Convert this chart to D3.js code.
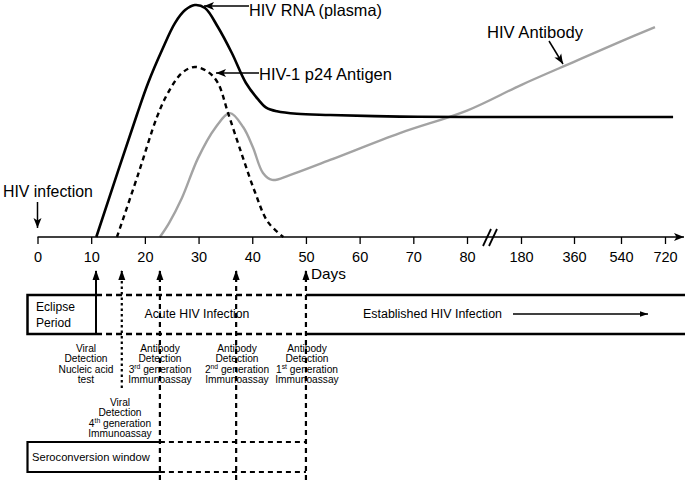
<!DOCTYPE html>
<html><head><meta charset="utf-8">
<script src="https://cdn.jsdelivr.net/npm/d3@7"></script>
<style>body{margin:0;background:#fff}svg{display:block;font-family:"Liberation Sans",Arial,Helvetica,sans-serif}</style>
</head><body><svg id="c" width="685" height="480"></svg>
<script>
// ---- data ----
const tickValues = [0,10,20,30,40,50,60,70,80,180,360,540,720];
const tickLabels = ["0","10","20","30","40","50","60","70","80","180","360","540","720"];
// curves: [day, relative level 0-100]
const hivRNA = [[10.95,0],[18.5,52.6],[20.6,66.4],[23.2,80.6],[25.6,92.2],[27.5,97.8],[29.3,100],[31.2,98.7],[33.6,90.5],[36.2,79.3],[38.8,66.5],[41.1,59.3],[42.6,55.8],[44.6,54.2],[48.3,53.1],[54.5,52.6],[67.5,51.9],[80,51.7],[180,51.7],[360,51.7],[540,51.7],[753,51.7]];
const p24Antigen = [[14.8,0],[18.7,26.7],[22.3,52],[24.3,62.1],[26.9,70.7],[29.3,73.3],[31.8,71.1],[33.6,66.4],[35.5,53.4],[38.1,35.3],[40.5,19.4],[42.9,6.5],[45.8,0]];
const hivAntibody = [[22.8,0],[24.5,6],[26.9,16.8],[29.9,34],[33.1,47],[35.85,53.4],[38.3,47.4],[40.1,38.8],[42,27.6],[43.7,24.6],[47,26.7],[54.5,33.2],[67.5,44.8],[80,54.5],[180,65.5],[360,75.5],[540,84.3],[679,90.5]];
// diagnostic test markers (day)
const testDays = [10.9, 15.7, 22.8, 37.0, 50.0];
const testLabels = [
  ["Viral","Detection","Nucleic acid","test"],
  ["Viral","Detection","4|th| generation","Immunoassay"],
  ["Antibody","Detection","3|rd| generation","Immunoassay"],
  ["Antibody","Detection","2|nd| generation","Immunoassay"],
  ["Antibody","Detection","1|st| generation","Immunoassay"]
];
const phaseLabels = ["Eclipse|Period","Acute HIV Infection","Established HIV Infection","Seroconversion window"];
const curveLabels = ["HIV RNA (plasma)","HIV-1 p24 Antigen","HIV Antibody","HIV infection"];

// ---- scales ----
const svg = d3.select("#c");
const x = d3.scaleLinear().domain([0,80,180,360,540,720]).range([37.5,467,521,574,621,665]);
const y = d3.scaleLinear().domain([0,100]).range([237,5]);
const axisY = 237;

const defs = svg.append("defs");
defs.append("marker").attr("id","ah").attr("viewBox","0 0 10 10").attr("refX",10).attr("refY",5)
  .attr("markerWidth",10).attr("markerHeight",10).attr("markerUnits","userSpaceOnUse").attr("orient","auto")
  .append("path").attr("d","M0,1 L10,5 L0,9 L2.5,5 Z").attr("fill","#000");
defs.append("marker").attr("id","ahs").attr("viewBox","0 0 10 10").attr("refX",10).attr("refY",5)
  .attr("markerWidth",9).attr("markerHeight",8).attr("markerUnits","userSpaceOnUse").attr("orient","auto")
  .append("path").attr("d","M0,1.5 L10,5 L0,8.5 Z").attr("fill","#000");

// text fitted to a measured width
function fitText(xp, yp, str, width, anchor){
  const t = svg.append("text").attr("x",xp).attr("y",yp).attr("font-size",20).attr("text-anchor",anchor||"start").text(str);
  const w = t.node().getComputedTextLength();
  t.attr("font-size", 20*width/w);
  return t;
}

// ---- curves ----
const line = d3.line().x(d=>x(d[0])).y(d=>y(d[1])).curve(d3.curveCatmullRom.alpha(0.5));
svg.append("path").datum(hivAntibody).attr("d",line).attr("fill","none").attr("stroke","#a3a3a3").attr("stroke-width",2.4);
svg.append("path").datum(p24Antigen).attr("d",line).attr("fill","none").attr("stroke","#000").attr("stroke-width",2.4).attr("stroke-dasharray","5,4");
svg.append("path").datum(hivRNA).attr("d",line).attr("fill","none").attr("stroke","#000").attr("stroke-width",2.6);

// ---- axis ----
const axis = d3.axisBottom(x).tickValues(tickValues).tickFormat((d,i)=>tickLabels[i]).tickSize(7).tickPadding(8);
const ag = svg.append("g").attr("transform",`translate(0,${axisY})`).call(axis);
ag.select(".domain").remove();
ag.selectAll(".tick line").attr("stroke","#000").attr("stroke-width",1.3);
ag.selectAll(".tick text").attr("font-size",14.5).attr("fill","#000").attr("font-family","Liberation Sans, Arial, sans-serif");
svg.append("line").attr("x1",x(0)).attr("x2",684).attr("y1",axisY).attr("y2",axisY)
  .attr("stroke","#000").attr("stroke-width",1.4).attr("marker-end","url(#ah)");
// break marks
[-3,3].forEach(o=>{
  svg.append("line").attr("x1",486+o).attr("y1",246).attr("x2",494+o).attr("y2",229).attr("stroke","#000").attr("stroke-width",1.8);
});
fitText(311,279,"Days",35);

// ---- labels with arrows ----
function arrow(x1,y1,x2,y2,m){svg.append("line").attr("x1",x1).attr("y1",y1).attr("x2",x2).attr("y2",y2)
  .attr("stroke","#000").attr("stroke-width",1.5).attr("marker-end",`url(#${m||"ah"})`);}
fitText(249,16,curveLabels[0],133);
arrow(249,6,204,6);
fitText(259,80,curveLabels[1],133);
arrow(259,73,216,73);
fitText(487,38,curveLabels[2],96);
arrow(549,41,563,64);
fitText(3,197,curveLabels[3],90);
arrow(x(0),202,x(0),228);

// ---- test marker lines ----
const styles = [
  {dash:null, w:2, y2:334},
  {dash:"2.5,3", w:2.2, y2:388},
  {dash:"5,4", w:2.2, y2:480},
  {dash:"5,4", w:2.2, y2:480},
  {dash:"5,4", w:2.2, y2:480}
];
testDays.forEach((d,i)=>{
  const xp = x(d);
  svg.append("line").attr("x1",xp).attr("x2",xp).attr("y1",styles[i].y2).attr("y2",271)
    .attr("stroke","#000").attr("stroke-width",styles[i].w).attr("stroke-dasharray",styles[i].dash);
  svg.append("path").attr("d",`M${xp},270 L${xp-3.5},280 L${xp+3.5},280 Z`).attr("fill","#000");
});

// ---- phase boxes ----
const bTop=295, bBot=334;
const xe = x(testDays[0]), x1 = x(testDays[4]);
svg.append("path").attr("d",`M${xe},${bTop} L27.5,${bTop} L27.5,${bBot} L${xe},${bBot}`).attr("fill","none").attr("stroke","#000").attr("stroke-width",2.5);
[bTop,bBot].forEach(yy=>{
  svg.append("line").attr("x1",xe).attr("x2",x1).attr("y1",yy).attr("y2",yy).attr("stroke","#000").attr("stroke-width",2.5).attr("stroke-dasharray","6,4");
  svg.append("line").attr("x1",x1).attr("x2",685).attr("y1",yy).attr("y2",yy).attr("stroke","#000").attr("stroke-width",2.5);
});
const ep = phaseLabels[0].split("|");
const et = fitText(36,311,ep[0],39);
svg.append("text").attr("x",36).attr("y",327).attr("font-size",et.attr("font-size")).text(ep[1]);
fitText(197,318,phaseLabels[1],105,"middle");
fitText(363,318,phaseLabels[2],139);
arrow(513,314,648,314,"ahs");

// seroconversion box
const x3 = x(testDays[2]);
const sTop=442, sBot=472;
svg.append("path").attr("d",`M${x3},${sTop} L27.5,${sTop} L27.5,${sBot} L${x3},${sBot}`).attr("fill","none").attr("stroke","#000").attr("stroke-width",2.2);
[sTop,sBot].forEach(yy=>{
  svg.append("line").attr("x1",x3).attr("x2",x1).attr("y1",yy).attr("y2",yy).attr("stroke","#000").attr("stroke-width",2.2).attr("stroke-dasharray","5,4");
});
fitText(32,461,phaseLabels[3],118);

// ---- test labels ----
const labelPos = [
  {cx:86, y0:352},
  {cx:120, y0:406},
  {cx:160, y0:352},
  {cx:237, y0:352},
  {cx:307, y0:352}
];
testLabels.forEach((lines,i)=>{
  lines.forEach((ln,j)=>{
    const parts = ln.split("|");
    const t = svg.append("text").attr("font-size",10.2).attr("text-anchor","middle")
      .attr("x",labelPos[i].cx).attr("y",labelPos[i].y0+j*10.3);
    if(parts.length===1){t.text(ln);}
    else{
      t.append("tspan").text(parts[0]);
      t.append("tspan").attr("font-size",6.8).attr("dy",-3.5).text(parts[1]);
      t.append("tspan").attr("dy",3.5).text(parts[2]);
    }
  });
});
</script></body></html>
